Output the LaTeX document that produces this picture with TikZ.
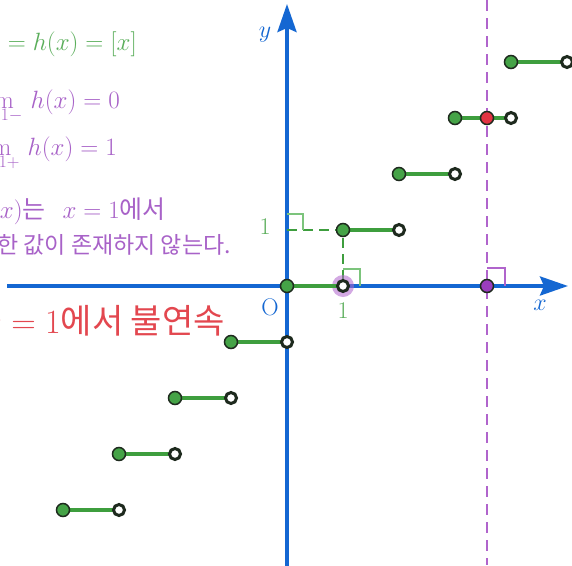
\RequirePackage{fix-cm}
\documentclass[tikz,border=0pt]{standalone}
\usepackage{fontspec}
\newfontfamily\kr{Noto Sans CJK KR}
\usetikzlibrary{arrows.meta}
\definecolor{axisblue}{HTML}{1467D2}
\definecolor{stepgreen}{HTML}{3E9E3E}
\definecolor{ptgreen}{HTML}{45A347}
\definecolor{txtgreen}{HTML}{5AAE5A}
\definecolor{markgreen}{HTML}{7CC47C}
\definecolor{txtpurple}{HTML}{A862C8}
\definecolor{dashpurple}{HTML}{B064CC}
\definecolor{ptpurple}{HTML}{9A3DBE}
\definecolor{txtred}{HTML}{E3474F}
\definecolor{ptred}{HTML}{E23343}
\definecolor{ptdark}{HTML}{1E2A1E}
\tikzset{
  axisline/.style={axisblue, line width=3.6pt, -{Stealth[length=28pt,width=19pt,inset=4pt]}},
  stepline/.style={stepgreen, line width=3.8pt},
  closedpt/.style={circle, fill=ptgreen, draw=ptdark, line width=1.5pt, minimum size=13pt, inner sep=0pt},
  openpt/.style={circle, fill=white, draw=ptdark, line width=3pt, minimum size=11pt, inner sep=0pt},
  markline/.style={markgreen, line width=1.3pt},
  guide/.style={stepgreen, line width=2pt, dash pattern=on 10pt off 6pt},
  vdash/.style={dashpurple, line width=2.4pt, dash pattern=on 11pt off 7pt},
  mainfont/.style={font=\fontsize{25}{30}\selectfont\kr},
  lbl/.style={inner sep=0pt, font=\fontsize{24}{28}\selectfont},
}
\begin{document}
\begin{tikzpicture}[x=1pt,y=-1pt]
\useasboundingbox (0,0) rectangle (572,565);
\clip (0,0) rectangle (572,565);
\fill[white] (0,0) rectangle (572,565);
% texts
\node[mainfont, text=txtgreen, anchor=base east, inner sep=0pt] (t1) at (137,50) {$y = h(x) = [x]$};
\node[mainfont, text=txtpurple, anchor=base east, inner sep=0pt] (t2) at (120,108) {$\lim\limits_{x\to1-}\, h(x) = 0$};
\node[mainfont, text=txtpurple, anchor=base east, inner sep=0pt] (t3) at (117,155) {$\lim\limits_{x\to1+}\, h(x) = 1$};
\node[mainfont, text=txtpurple, anchor=base east, inner sep=0pt] (t4) at (166,218) {함수 $h(x)$는 \ \ $x=1$에서};
\node[font=\fontsize{23}{27}\selectfont\kr, text=txtpurple, anchor=base east, inner sep=0pt] (t5) at (231,253) {극한 값이 존재하지 않는다.};
\node[font=\fontsize{34}{38}\selectfont\kr, text=txtred, anchor=base east, inner sep=0pt] (t6) at (225,333) {$x=1$에서 불연속};
% axes
\coordinate (xs) at (7,286);
\coordinate (xe) at (568,286);
\coordinate (ys) at (287,566);
\coordinate (ye) at (287,4);
\draw[axisline] (xs) -- (xe);
\draw[axisline] (ys) -- (ye);
\node[lbl, text=axisblue] (xl) at (540,305) {$x$};
\node[lbl, text=axisblue] (yl) at (265,35) {$y$};
\node[lbl, text=axisblue] (ol) at (270,307) {$\mathrm{O}$};
\node[lbl, text=txtgreen] (x1) at (343,311) {$1$};
\node[lbl, text=txtgreen] (y1) at (265,227) {$1$};
% vertical dashed line
\coordinate (vt) at (487,0);
\coordinate (vb) at (487,565);
\draw[vdash] (vt) -- (vb);
% guide lines
\coordinate (g0) at (287,230);
\coordinate (g1) at (343,230);
\coordinate (g2) at (343,286);
\draw[guide] (g0) -- (g1) -- (g2);
% right angle marks
\draw[markline] (287,214) -- (303,214) -- (303,230);
\draw[markline] (343,269) -- (360,269) -- (360,286);
\draw[dashpurple, line width=1.3pt] (487,268) -- (505,268) -- (505,286);
% highlight
\fill[dashpurple, opacity=0.55] (343,286) circle (11pt);
% steps
\foreach \k in {-4,...,4} {
  \coordinate (cc\k) at ({287+56*\k},{286-56*\k});
  \coordinate (oc\k) at ({343+56*\k},{286-56*\k});
  \draw[stepline] (cc\k) -- (oc\k);
}
\foreach \k in {-4,...,4} {
  \node[closedpt] (c\k) at (cc\k) {};
  \node[openpt] (o\k) at (oc\k) {};
}
\node[circle, fill=ptred, draw=ptdark, line width=1.5pt, minimum size=13pt, inner sep=0pt] (rp) at (487,118) {};
\node[circle, fill=ptpurple, draw=ptdark, line width=1.5pt, minimum size=13pt, inner sep=0pt] (pp) at (487,286) {};
\end{tikzpicture}
\end{document}
